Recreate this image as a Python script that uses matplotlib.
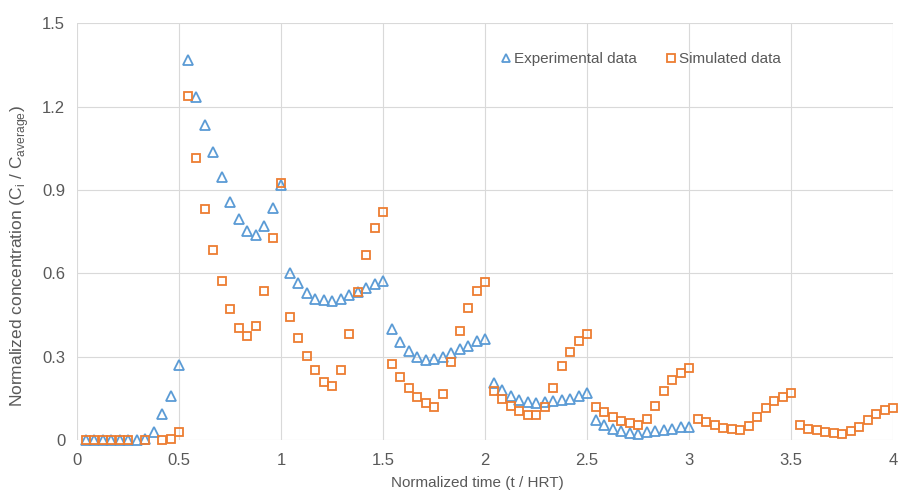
import numpy as np
import matplotlib
matplotlib.use("Agg")
import matplotlib.pyplot as plt
from matplotlib.ticker import FuncFormatter, MultipleLocator

plt.rcParams['font.family'] = ['Liberation Sans', 'DejaVu Sans']

# Normalized time (t / HRT), sampled every 1/24 HRT
time = [0.0417, 0.0833, 0.1250, 0.1667, 0.2083, 0.2500, 0.2917, 0.3333,
        0.3750, 0.4167, 0.4583, 0.5000, 0.5417, 0.5833, 0.6250, 0.6667,
        0.7083, 0.7500, 0.7917, 0.8333, 0.8750, 0.9167, 0.9583, 1.0000,
        1.0417, 1.0833, 1.1250, 1.1667, 1.2083, 1.2500, 1.2917, 1.3333,
        1.3750, 1.4167, 1.4583, 1.5000, 1.5417, 1.5833, 1.6250, 1.6667,
        1.7083, 1.7500, 1.7917, 1.8333, 1.8750, 1.9167, 1.9583, 2.0000,
        2.0417, 2.0833, 2.1250, 2.1667, 2.2083, 2.2500, 2.2917, 2.3333,
        2.3750, 2.4167, 2.4583, 2.5000, 2.5417, 2.5833, 2.6250, 2.6667,
        2.7083, 2.7500, 2.7917, 2.8333, 2.8750, 2.9167, 2.9583, 3.0000,
        3.0417, 3.0833, 3.1250, 3.1667, 3.2083, 3.2500, 3.2917, 3.3333,
        3.3750, 3.4167, 3.4583, 3.5000, 3.5417, 3.5833, 3.6250, 3.6667,
        3.7083, 3.7500, 3.7917, 3.8333, 3.8750, 3.9167, 3.9583, 4.0000]

experimental = [0, 0, 0, 0, 0, 0, 0, 0.005, 0.031, 0.095, 0.160, 0.271,
                1.367, 1.233, 1.134, 1.038, 0.946, 0.858, 0.796, 0.754, 0.737, 0.771, 0.837, 0.918,
                0.603, 0.567, 0.531, 0.507, 0.505, 0.501, 0.507, 0.522, 0.535, 0.547, 0.561, 0.572,
                0.400, 0.354, 0.323, 0.301, 0.289, 0.292, 0.301, 0.313, 0.328, 0.340, 0.359, 0.364,
                0.207, 0.181, 0.160, 0.145, 0.138, 0.136, 0.139, 0.143, 0.144, 0.150, 0.159, 0.170,
                0.074, 0.055, 0.040, 0.034, 0.028, 0.024, 0.030, 0.033, 0.037, 0.041, 0.047, 0.050]

simulated = [0, 0, 0, 0, 0, 0, np.nan, 0, np.nan, 0, 0.004, 0.030,
             1.238, 1.014, 0.832, 0.686, 0.573, 0.474, 0.404, 0.375, 0.413, 0.538, 0.728, 0.926,
             0.445, 0.369, 0.305, 0.253, 0.211, 0.196, 0.253, 0.382, 0.535, 0.667, 0.762, 0.822,
             0.275, 0.227, 0.188, 0.157, 0.134, 0.122, 0.166, 0.281, 0.393, 0.477, 0.537, 0.568,
             0.177, 0.150, 0.123, 0.105, 0.091, 0.091, 0.121, 0.190, 0.268, 0.319, 0.359, 0.382,
             0.119, 0.102, 0.086, 0.071, 0.062, 0.056, 0.076, 0.125, 0.179, 0.217, 0.244, 0.262,
             0.078, 0.066, 0.054, 0.046, 0.040, 0.037, 0.051, 0.086, 0.118, 0.142, 0.156, 0.170,
             0.054, 0.042, 0.036, 0.030, 0.027, 0.025, 0.033, 0.047, 0.074, 0.095, 0.110, 0.115]

series_labels = ["Experimental data", "Simulated data"]

BLUE = "#5B9BD5"
ORANGE = "#ED7D31"
GRAY = "#595959"
GRID = "#D9D9D9"

fig = plt.figure(figsize=(8.99, 4.97), dpi=100)
ax = fig.add_axes([0.0857, 0.1137, 0.9077, 0.840])

ax.plot(time[:len(experimental)], experimental, linestyle='none', marker='^',
        markersize=6.5, markerfacecolor='none', markeredgecolor=BLUE,
        markeredgewidth=1.3, clip_on=False, label=series_labels[0], zorder=3)
ax.plot(time, simulated, linestyle='none', marker='s',
        markersize=6, markerfacecolor='none', markeredgecolor=ORANGE,
        markeredgewidth=1.3, clip_on=False, label=series_labels[1], zorder=4)

ax.set_xlim(0, 4)
ax.set_ylim(0, 1.5)
ax.xaxis.set_major_locator(MultipleLocator(0.5))
ax.yaxis.set_major_locator(MultipleLocator(0.3))
fmt = FuncFormatter(lambda v, p: f"{v:g}")
ax.xaxis.set_major_formatter(fmt)
ax.yaxis.set_major_formatter(fmt)

ax.grid(True, color=GRID, linewidth=0.8)
ax.set_axisbelow(True)
for s in ax.spines.values():
    s.set_visible(False)
ax.tick_params(axis='both', length=0, labelsize=12, labelcolor=GRAY)
ax.tick_params(axis='y', pad=8.5)
ax.tick_params(axis='x', pad=9)

ax.set_xlabel("Normalized time (t / HRT)", fontsize=11, color=GRAY)
ax.xaxis.set_label_coords(0.49, -0.086)
ax.set_ylabel(r"Normalized concentration (C$_\mathregular{i}$ / C$_\mathregular{average}$)",
              fontsize=12.5, color=GRAY)
ax.yaxis.set_label_coords(-0.056, 0.442)

leg = ax.legend(loc='center left', bbox_to_anchor=(0.513, 0.914), ncol=2,
                frameon=False, fontsize=11, handlelength=0.6, handletextpad=0.2,
                columnspacing=1.95, markerscale=0.9, borderaxespad=0)
for t in leg.get_texts():
    t.set_color(GRAY)

fig.savefig("out.png", dpi=100)
